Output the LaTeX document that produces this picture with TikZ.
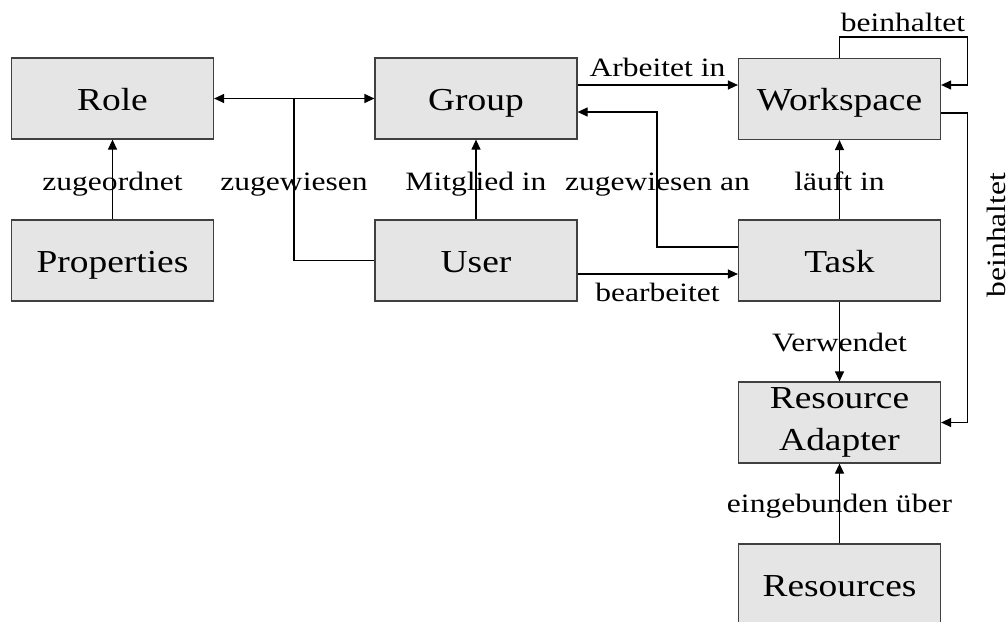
\documentclass[tikz,border=0pt]{standalone}
\usepackage{fontspec}
\setmainfont{Liberation Serif}
\newfontfamily\boxfont[FakeStretch=1.17]{Liberation Serif}
\newfontfamily\lblfont[FakeStretch=1.19]{Liberation Serif}
\usetikzlibrary{arrows.meta}

\definecolor{boxfill}{HTML}{E5E5E5}
\definecolor{boxline}{HTML}{404040}

\tikzset{
  entity/.style={draw=boxline, fill=boxfill, line width=1.2pt,
    minimum width=202pt, minimum height=81pt, inner sep=0pt,
    text height=28pt, text depth=5pt,
    align=center, font=\boxfont\fontsize{32}{41.3}\selectfont},
  lbl/.style={anchor=base, inner sep=0pt, font=\lblfont\fontsize{26.5}{32}\selectfont},
  link/.style={line width=1.2pt, draw=black},
  arr/.style={link, -{Triangle[length=10pt,width=9pt]}},
}

\begin{document}
\begin{tikzpicture}[x=1pt, y=-1pt]
\useasboundingbox (0,0) rectangle (1008,621);

% entities
\node[entity] (role)  at (112.5, 98.5) {Role};
\node[entity] (props) at (112.5,260.5) {Properties};
\node[entity] (group) at (476,  98.5) {Group};
\node[entity] (user)  at (476, 260.5) {User};
\node[entity] (ws)    at (839.5, 99)  {Workspace};
\node[entity] (task)  at (839.5,260.5) {Task};
\node[entity, text height={}, text depth={}] (ra) at (839.5,422.5) {Resource\\Adapter};
\node[entity] (res)   at (839.5,584.5) {Resources};

% user is assigned to roles and groups
\coordinate (split) at (294, 98.5);
\draw[link] (user.west) -| (split);
\draw[arr] (split) -- (role.east);
\draw[arr] (split) -- (group.west);

% straight vertical relations
\draw[arr] (props.north) -- (role.south);
\draw[arr] (user.north) -- (group.south);
\draw[arr] (task.north) -- (ws.south);
\draw[arr] (task.south) -- (ra.north);
\draw[arr] (res.north) -- (ra.south);

% horizontal relations
\draw[arr] ([yshift=13.5pt]group.east) -- ([yshift=13.5pt]group.east -| ws.west);
\draw[arr] ([yshift=-13.5pt]user.east) -- ([yshift=-13.5pt]user.east -| task.west);
\draw[arr] ([yshift=13.5pt]task.west) -- ++(-81,0) |- ([yshift=-13.5pt]group.east);

% workspace contains workspaces and resource adapters
\draw[arr] (ws.north) -- ++(0,-21) -| ([xshift=26pt,yshift=14pt]ws.east)
  -- ([yshift=14pt]ws.east);
\draw[arr] ([yshift=-14pt]ws.east) -- ++(26,0) |- (ra.east);

% labels
\node[lbl] (l1)  at (112.5,190.5) {zugeordnet};
\node[lbl] (l2)  at (294,  190.5) {zugewiesen};
\node[lbl] (l3)  at (476,  190.5) {Mitglied in};
\node[lbl] (l4)  at (657.5,190.5) {zugewiesen an};
\node[lbl] (l5)  at (839.5,190.5) {läuft in};
\node[lbl] (l6)  at (657.5, 76)   {Arbeitet in};
\node[lbl] (l7)  at (657.5,301.5) {bearbeitet};
\node[lbl] (l8)  at (903,   31.5) {beinhaltet};
\node[lbl, rotate=90] (l9) at (1005.5,235) {beinhaltet};
\node[lbl] (l10) at (839.5,351.5) {Verwendet};
\node[lbl] (l11) at (839.5,512.5) {eingebunden über};
\end{tikzpicture}
\end{document}
